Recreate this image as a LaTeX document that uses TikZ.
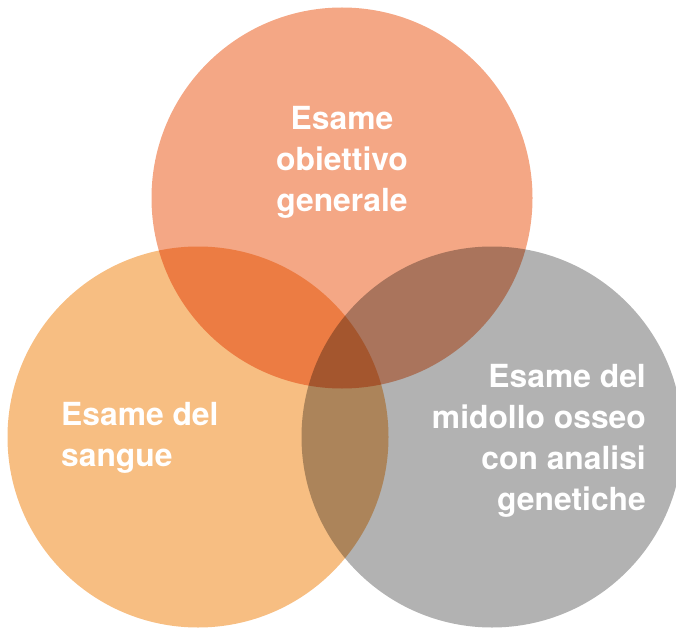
\documentclass[tikz,border=0pt]{standalone}
\usepackage{fontspec}
\setmainfont{TeX Gyre Heros}
\definecolor{topc}{RGB}{244,167,133}
\definecolor{leftc}{RGB}{247,190,130}
\definecolor{rightc}{RGB}{178,178,178}
\tikzset{
  venn/.style={circle, minimum size=381pt, inner sep=0pt, blend mode=multiply},
  lbl/.style={text=white, font=\fontsize{31.8}{41}\selectfont\bfseries, inner sep=0pt}
}
\begin{document}
\begin{tikzpicture}[x=1pt,y=-1pt]
\useasboundingbox (0,0) rectangle (676,628);
\node[venn, fill=topc] (top) at (342,198) {};
\node[venn, fill=leftc] (left) at (198,437) {};
\node[venn, fill=rightc] (right) at (492,437) {};
\node[lbl, align=center] (ltop) at (342,162) {Esame\\obiettivo\\generale};
\node[lbl, align=left, anchor=west] (lleft) at (61,438) {Esame del\\sangue};
\node[lbl, align=right, anchor=east] (lright) at (646,441) {Esame del\\midollo osseo\\con analisi\\genetiche};
\end{tikzpicture}
\end{document}
